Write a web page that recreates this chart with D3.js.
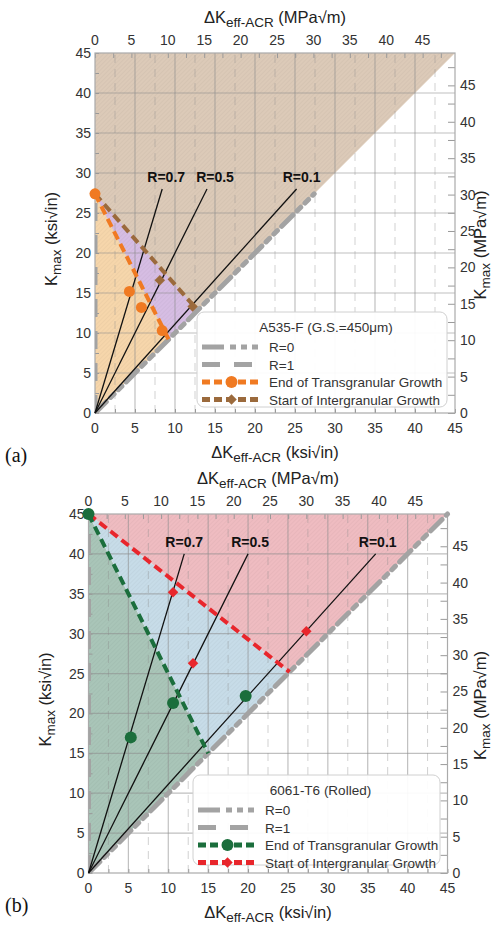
<!DOCTYPE html>
<html>
<head>
<meta charset="utf-8">
<script src="https://cdn.jsdelivr.net/npm/d3@7"></script>
<style>
  body { margin: 0; background: #fff; }
  svg { font-family: "Liberation Sans", Arial, sans-serif; }
</style>
</head>
<body>
<div id="container"></div>
<script>
const width = 494, height = 928
const KSI_TO_MPA = 1.0988

// tick values (ksi√in on left/bottom, MPa√m on top/right)
const ksiTicks = [0, 5, 10, 15, 20, 25, 30, 35, 40, 45]
const mpaTicks = [0, 5, 10, 15, 20, 25, 30, 35, 40, 45]

// R-ratio guide lines: Kmax = ΔK / (1 - R)
const rRatios = [0.7, 0.5, 0.1]
const rLabels = ["R=0.7", "R=0.5", "R=0.1"]

// panel (a) A535-F
const aRLineKmax = 28
const aBoundKmax = 27.4          // extent of R=0 / R=1 lines
const aTransPoints = [[0, 27.4], [4.3, 15.2], [5.8, 13.2], [8.4, 10.3]]
const aTransFit = [[0, 27.4], [9.2, 9.2]]
const aInterPoints = [[0, 27.4], [8.1, 16.6], [12.2, 13.3]]
const aInterFit = [[0, 27.4], [12.6, 13.1]]

// panel (b) 6061-T6
const bRLineKmax = 40
const bBoundKmax = 45
const bTransPoints = [[0, 45], [5.3, 17.0], [10.6, 21.3], [19.7, 22.2]]
const bTransFit = [[0, 45], [15, 15]]
const bInterPoints = [[0, 45], [10.6, 35.2], [13.1, 26.3], [27.3, 30.3]]
const bInterFit = [[0, 45], [25.2, 25.2]]

const svg = d3.select("#container").append("svg")
  .attr("width", width)
  .attr("height", height)

// fine hatch texture used on the shaded regions
const defs = svg.append("defs")
const hatch = defs.append("pattern")
  .attr("id", "hatch")
  .attr("patternUnits", "userSpaceOnUse")
  .attr("width", 3).attr("height", 3)
  .attr("patternTransform", "rotate(45)")
hatch.append("line")
  .attr("x1", 0).attr("y1", 0).attr("x2", 0).attr("y2", 3)
  .attr("stroke", "rgba(0,0,0,0.06)").attr("stroke-width", 1)

const R0_DASH = "16,6,5,6,5,6"
const R1_DASH = "18,14"
const diamond = d3.symbol(d3.symbolSquare, 55)()

function axisTitle(g, x, y, rotate) {
  const t = g.append("text")
    .attr("text-anchor", "middle")
    .attr("fill", "#222")
    .style("font-size", "16.5px")
  if (rotate) t.attr("transform", `translate(${x},${y}) rotate(-90)`)
  else t.attr("x", x).attr("y", y)
  return t
}

function addK(t, prefix, sub, unit) {
  t.append("tspan").text(prefix + "K")
  t.append("tspan").attr("dy", 4).style("font-size", "13.5px").text(sub)
  t.append("tspan").attr("dy", -4).text(" " + unit)
}

function drawPanel(p) {
  const g = svg.append("g")
  const x = d3.scaleLinear().domain([0, 45]).range([p.left, p.left + p.size])
  const y = d3.scaleLinear().domain([0, 45]).range([p.top + p.size, p.top])
  const xm = d3.scaleLinear().domain([0, 45 * KSI_TO_MPA]).range([p.left, p.left + p.size])
  const ym = d3.scaleLinear().domain([0, 45 * KSI_TO_MPA]).range([p.top + p.size, p.top])
  const line = d3.line().x(d => x(d[0])).y(d => y(d[1]))
  const diag = d => [d[0] + (d[1] - d[0]) / 2, d[0] + (d[1] - d[0]) / 2]

  const clipId = "clip" + p.name
  defs.append("clipPath").attr("id", clipId)
    .append("rect")
    .attr("x", p.left).attr("y", p.top - 4)
    .attr("width", p.size + 4).attr("height", p.size + 4)

  // shaded regions
  const transEnd = p.transFit[1], interEnd = p.interFit[1]
  const regions = [
    { pts: [[0, 0], [0, 45], [45, 45]], fill: p.colTop },
    { pts: [[0, 0], p.transFit[0], transEnd], fill: p.colTrans },
    { pts: [p.interFit[0], interEnd, diag(interEnd), transEnd], fill: p.colMid }
  ]
  if (p.name === "b") {
    regions[0] = { pts: [[0, 45], [45, 45], interEnd], fill: p.colTop }
  }
  regions.forEach(r => {
    g.append("path").attr("d", line(r.pts) + "Z").attr("fill", r.fill)
    g.append("path").attr("d", line(r.pts) + "Z").attr("fill", "url(#hatch)")
  })

  // grid
  const grid = g.append("g").attr("stroke", "#8d8d8d").attr("fill", "none")
  ksiTicks.slice(1, -1).forEach(v => {
    grid.append("line").attr("x1", x(v)).attr("x2", x(v)).attr("y1", y(0)).attr("y2", y(45))
      .attr("stroke-opacity", 0.55).attr("stroke-width", 1.2)
    grid.append("line").attr("y1", y(v)).attr("y2", y(v)).attr("x1", x(0)).attr("x2", x(45))
      .attr("stroke-opacity", 0.55).attr("stroke-width", 1.2)
  })
  d3.range(2.5, 45, 5).forEach(v => {
    grid.append("line").attr("x1", x(v)).attr("x2", x(v)).attr("y1", y(0)).attr("y2", y(45))
      .attr("stroke-opacity", 0.4).attr("stroke-dasharray", "8,6")
  })

  // axes: ticks inside the frame
  const axB = d3.axisBottom(x).tickValues(d3.range(0, 45.1, 2.5)).tickSize(-4).tickFormat("")
  const axL = d3.axisLeft(y).tickValues(d3.range(0, 45.1, 2.5)).tickSize(-4).tickFormat("")
  const axT = d3.axisTop(xm).tickValues(d3.range(0, 49.4, 2.5)).tickSize(-5).tickFormat("")
  const axR = d3.axisRight(ym).tickValues(d3.range(0, 49.4, 2.5)).tickSize(-7).tickFormat("")
  const axes = [
    g.append("g").attr("transform", `translate(0,${y(0)})`).call(axB),
    g.append("g").attr("transform", `translate(${x(0)},0)`).call(axL),
    g.append("g").attr("transform", `translate(0,${y(45)})`).call(axT),
    g.append("g").attr("transform", `translate(${x(45)},0)`).call(axR)
  ]
  axes.forEach(a => {
    a.select(".domain").remove()
    a.selectAll("line").attr("stroke", "#999")
  })
  g.append("rect")
    .attr("x", x(0)).attr("y", y(45))
    .attr("width", x(45) - x(0)).attr("height", y(0) - y(45))
    .attr("fill", "none").attr("stroke", "#aaa").attr("stroke-width", 1.2)

  // tick labels
  const lab = g.append("g").attr("fill", "#333").style("font-size", "14px")
  ksiTicks.forEach(v => {
    lab.append("text").attr("x", x(v)).attr("y", y(0) + 20).attr("text-anchor", "middle").text(v)
    lab.append("text").attr("x", x(0) - 4).attr("y", y(v) + 5).attr("text-anchor", "end").text(v)
  })
  mpaTicks.forEach(v => {
    lab.append("text").attr("x", xm(v)).attr("y", y(45) - 8).attr("text-anchor", "middle").text(v)
    lab.append("text").attr("x", x(45) + 5).attr("y", ym(v) + 5).attr("text-anchor", "start").text(v)
  })

  // R=1 (left edge) and R=0 (diagonal) bounds
  const bounds = g.append("g").attr("clip-path", `url(#${clipId})`)
  bounds.append("path").attr("d", line([[0, 0], [0, p.boundKmax]]))
    .attr("stroke", "#a3a3a3").attr("stroke-width", 5).attr("fill", "none")
    .attr("stroke-dasharray", R1_DASH)
  bounds.append("path").attr("d", line([[0, 0], [p.boundKmax, p.boundKmax]]))
    .attr("stroke", "#a3a3a3").attr("stroke-width", 5).attr("fill", "none")
    .attr("stroke-dasharray", R0_DASH).attr("stroke-linecap", "round")

  // R lines
  rRatios.forEach((r, i) => {
    const end = [p.rKmax * (1 - r), p.rKmax]
    g.append("path").attr("d", line([[0, 0], end]))
      .attr("stroke", "#111").attr("stroke-width", 1.3).attr("fill", "none")
    g.append("text")
      .attr("x", x(end[0]) + p.labelShift[i]).attr("y", y(end[1]) - 7)
      .attr("text-anchor", "middle")
      .style("font-size", "14px").style("font-weight", "bold").attr("fill", "#111")
      .text(rLabels[i])
  })

  // growth boundaries
  g.append("path").attr("d", line(p.interFit))
    .attr("stroke", p.colInter).attr("stroke-width", 4).attr("fill", "none")
    .attr("stroke-dasharray", "9,5")
  g.append("path").attr("d", line(p.transFit))
    .attr("stroke", p.colTransLine).attr("stroke-width", 4).attr("fill", "none")
    .attr("stroke-dasharray", "9,5")
  g.selectAll("path.dmd").data(p.interPoints).join("path")
    .attr("class", "dmd")
    .attr("d", diamond)
    .attr("transform", d => `translate(${x(d[0])},${y(d[1])}) rotate(45)`)
    .attr("fill", p.colInter)
  g.selectAll("circle.pt").data(p.transPoints).join("circle")
    .attr("class", "pt")
    .attr("cx", d => x(d[0])).attr("cy", d => y(d[1]))
    .attr("r", p.circR).attr("fill", p.colTransLine)

  // legend
  const lg = g.append("g").attr("transform", `translate(${p.legend.x},${p.legend.y})`)
  lg.append("rect").attr("width", p.legend.w).attr("height", p.legend.h)
    .attr("rx", 7).attr("fill", "rgba(255,255,255,0.93)").attr("stroke", "#d0d0d0")
  lg.append("text").attr("x", p.legend.w / 2 + 4).attr("y", 20)
    .attr("text-anchor", "middle").style("font-size", "13.5px").attr("fill", "#333")
    .text(p.legendTitle)
  const items = [
    { label: "R=0", stroke: "#a3a3a3", dash: "22,6,6,5,6,5,6", mark: null },
    { label: "R=1", stroke: "#a3a3a3", dash: "18,14", mark: null },
    { label: "End of Transgranular Growth", stroke: p.colTransLine, dash: "8,4", mark: "circle" },
    { label: "Start of Intergranular Growth", stroke: p.colInter, dash: "8,4", mark: "diamond" }
  ]
  items.forEach((it, i) => {
    const yy = 35 + i * 17.5
    lg.append("line").attr("x1", 5).attr("x2", 64).attr("y1", yy).attr("y2", yy)
      .attr("stroke", it.stroke).attr("stroke-width", 5).attr("stroke-dasharray", it.dash)
    if (it.mark === "circle") {
      lg.append("circle").attr("cx", 34.5).attr("cy", yy).attr("r", 6).attr("fill", it.stroke)
    } else if (it.mark === "diamond") {
      lg.append("path").attr("d", diamond)
        .attr("transform", `translate(34.5,${yy}) rotate(45)`).attr("fill", it.stroke)
    }
    lg.append("text").attr("x", 72).attr("y", yy + 5)
      .style("font-size", "13.5px").attr("fill", "#333").text(it.label)
  })

  // axis titles
  const cx = (x(0) + x(45)) / 2
  addK(axisTitle(g, cx, p.top - 30, false), "Δ", "eff-ACR", "(MPa√m)")
  addK(axisTitle(g, cx, y(0) + 45, false), "Δ", "eff-ACR", "(ksi√in)")
  addK(axisTitle(g, p.left - 38, (y(0) + y(45)) / 2 + 6, true), "", "max", "(ksi√in)")
  addK(axisTitle(g, 486, (y(0) + y(45)) / 2 + 12, true), "", "max", "(MPa√m)")

  svg.append("text").attr("x", 5).attr("y", p.tagY)
    .style("font-family", "'Liberation Serif', 'Times New Roman', serif")
    .style("font-size", "20px").attr("fill", "#111").text(p.tag)
}

drawPanel({
  name: "a", left: 95, top: 53, size: 360,
  rKmax: aRLineKmax, boundKmax: aBoundKmax,
  transPoints: aTransPoints, transFit: aTransFit,
  interPoints: aInterPoints, interFit: aInterFit,
  colTop: "#dccab8", colTrans: "#f6d6ab", colMid: "#d6bde3",
  colTransLine: "#f07a22", colInter: "#9b6a3c", circR: 5.5,
  labelShift: [4, 8, 5],
  legend: { x: 197, y: 312, w: 250, h: 95 },
  legendTitle: "A535-F (G.S.=450μm)",
  tag: "(a)", tagY: 462
})

drawPanel({
  name: "b", left: 88.5, top: 514, size: 359,
  rKmax: bRLineKmax, boundKmax: bBoundKmax,
  transPoints: bTransPoints, transFit: bTransFit,
  interPoints: bInterPoints, interFit: bInterFit,
  colTop: "#efbcc1", colTrans: "#a9c5b8", colMid: "#c7dce8",
  colTransLine: "#1b6e3c", colInter: "#e8262c", circR: 6,
  labelShift: [0, 2, 2],
  legend: { x: 193, y: 775, w: 247, h: 90 },
  legendTitle: "6061-T6 (Rolled)",
  tag: "(b)", tagY: 912
})
</script>
</body>
</html>
